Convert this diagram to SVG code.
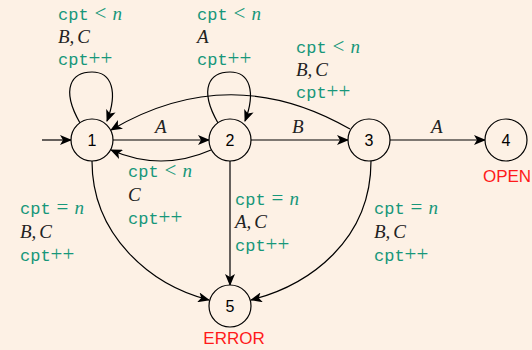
<svg xmlns="http://www.w3.org/2000/svg" width="532" height="350" viewBox="0 0 532 350">
<defs>
<marker id="ah" viewBox="0 0 12 10" refX="11" refY="5" markerWidth="12" markerHeight="10" markerUnits="userSpaceOnUse" orient="auto">
<path d="M0,0 L12,5 L0,10 L3,5 Z" fill="#000"/>
</marker>
<style>
.node circle{fill:#fdf1e5;stroke:#000;stroke-width:1.2}
.node text{font-family:"Liberation Sans",Arial,sans-serif;font-size:16px;text-anchor:middle;fill:#000}
.node text.red{font-size:17px;fill:#ff1a1a}
.edge{fill:none;stroke:#000;stroke-width:1.2;marker-end:url(#ah)}
.lbl{font-family:"Liberation Serif","Times New Roman",serif;font-size:19px;font-style:italic;fill:#222}
.g{fill:#17977a}
.tt{font-family:"Liberation Mono","Courier New",monospace;font-style:normal;font-size:17px}
.up{font-style:normal;font-size:21px}
</style>
</defs>
<rect width="532" height="350" fill="#fdf1e5"/>
<g id="connectors">
<path class="edge" d="M80,123 C60,88 72,72 92,72 C112,72 118,92 107,121"/>
<path class="edge" d="M218,123 C198,88 210,72 230,72 C250,72 256,92 245,121"/>
<path class="edge" d="M42,140 L71,140"/>
<path class="edge" d="M113,140 L209,140"/>
<path class="edge" d="M251,140 L348,140"/>
<path class="edge" d="M390,140 L485,140"/>
<path class="edge" d="M350,129 Q230,60 111,130"/>
<path class="edge" d="M211,150 Q161,172 111,150"/>
<path class="edge" d="M92,161 C92,235 150,285 209,300"/>
<path class="edge" d="M230,161 L230,285"/>
<path class="edge" d="M371,161 C371,240 310,285 251,300"/>
<text class="lbl" x="155" y="133">A</text>
<text class="lbl" x="292" y="133">B</text>
<text class="lbl" x="431" y="133">A</text>
</g>
<g id="n1" class="node"><circle cx="92" cy="140" r="21"/><text x="92" y="146">1</text></g>
<g id="n2" class="node"><circle cx="230" cy="140" r="21"/><text x="230" y="146">2</text></g>
<g id="n3" class="node"><circle cx="369" cy="140" r="21"/><text x="369" y="146">3</text></g>
<g id="n4" class="node"><circle cx="506" cy="140" r="21"/><text x="506" y="146">4</text><text class="red" x="507" y="182">OPEN</text></g>
<g id="n5" class="node"><circle cx="230" cy="306" r="21"/><text x="230" y="312">5</text><text class="red" x="234" y="344">ERROR</text></g>
<g id="labels">
<text class="lbl" x="58" y="20"><tspan class="g tt">cpt</tspan><tspan class="g up" dx="6">&lt;</tspan><tspan class="g" dx="6">n</tspan></text>
<text class="lbl" x="58" y="43">B,<tspan dx="3">C</tspan></text>
<text class="lbl" x="58" y="65"><tspan class="g tt">cpt</tspan><tspan class="g up">++</tspan></text>

<text class="lbl" x="197" y="20"><tspan class="g tt">cpt</tspan><tspan class="g up" dx="6">&lt;</tspan><tspan class="g" dx="6">n</tspan></text>
<text class="lbl" x="197" y="43">A</text>
<text class="lbl" x="197" y="65"><tspan class="g tt">cpt</tspan><tspan class="g up">++</tspan></text>

<text class="lbl" x="296" y="53"><tspan class="g tt">cpt</tspan><tspan class="g up" dx="6">&lt;</tspan><tspan class="g" dx="6">n</tspan></text>
<text class="lbl" x="296" y="76">B,<tspan dx="3">C</tspan></text>
<text class="lbl" x="296" y="98"><tspan class="g tt">cpt</tspan><tspan class="g up">++</tspan></text>

<text class="lbl" x="128" y="177"><tspan class="g tt">cpt</tspan><tspan class="g up" dx="6">&lt;</tspan><tspan class="g" dx="6">n</tspan></text>
<text class="lbl" x="128" y="201">C</text>
<text class="lbl" x="128" y="224"><tspan class="g tt">cpt</tspan><tspan class="g up">++</tspan></text>

<text class="lbl" x="20" y="214"><tspan class="g tt">cpt</tspan><tspan class="g up" dx="6">=</tspan><tspan class="g" dx="6">n</tspan></text>
<text class="lbl" x="20" y="238">B,<tspan dx="3">C</tspan></text>
<text class="lbl" x="20" y="261"><tspan class="g tt">cpt</tspan><tspan class="g up">++</tspan></text>

<text class="lbl" x="235" y="205"><tspan class="g tt">cpt</tspan><tspan class="g up" dx="6">=</tspan><tspan class="g" dx="6">n</tspan></text>
<text class="lbl" x="235" y="228">A,<tspan dx="3">C</tspan></text>
<text class="lbl" x="235" y="251"><tspan class="g tt">cpt</tspan><tspan class="g up">++</tspan></text>

<text class="lbl" x="374" y="214"><tspan class="g tt">cpt</tspan><tspan class="g up" dx="6">=</tspan><tspan class="g" dx="6">n</tspan></text>
<text class="lbl" x="374" y="238">B,<tspan dx="3">C</tspan></text>
<text class="lbl" x="374" y="261"><tspan class="g tt">cpt</tspan><tspan class="g up">++</tspan></text>
</g>
</svg>
